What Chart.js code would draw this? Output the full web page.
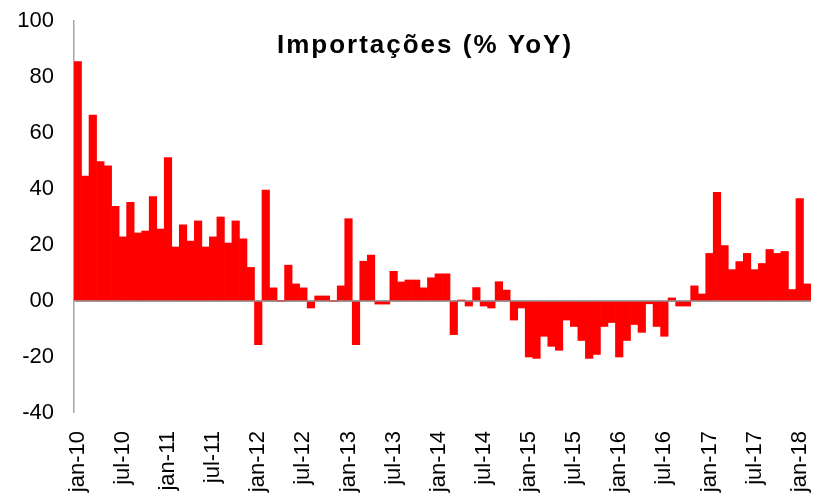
<!DOCTYPE html>
<html>
<head>
<meta charset="utf-8">
<script src="https://cdn.jsdelivr.net/npm/chart.js@4/dist/chart.umd.min.js"></script>
<style>
  html, body { margin: 0; padding: 0; background: #fff; }
  #wrap { width: 814px; height: 497px; }
</style>
</head>
<body>
<div id="wrap"><canvas id="importChart" width="814" height="497"></canvas></div>
<script>
// Importações, variação anual (%), mensal jan-10 a fev-18
const months = ['jan', 'fev', 'mar', 'abr', 'mai', 'jun', 'jul', 'ago', 'set', 'out', 'nov', 'dez'];
const years = ['10', '11', '12', '13', '14', '15', '16', '17', '18'];

const yoy2010 = [85.5, 44.6, 66.4, 49.8, 48.3, 33.8, 22.9, 35.2, 24.3, 25.0, 37.3, 25.7];
const yoy2011 = [51.2, 19.3, 27.2, 21.4, 28.6, 19.3, 22.9, 30.0, 20.7, 28.6, 22.2, 12.0];
const yoy2012 = [-15.6, 39.6, 4.7, 0.0, 12.8, 6.1, 4.7, -2.5, 1.8, 1.8, 0.0, 5.4];
const yoy2013 = [29.4, -15.6, 14.2, 16.4, -1.1, -1.1, 10.6, 6.8, 7.5, 7.5, 4.7, 8.3];
const yoy2014 = [9.7, 9.7, -12.0, 0.3, -1.8, 4.8, -1.8, -2.5, 6.9, 3.9, -6.8, -2.5];
const yoy2015 = [-20.0, -20.5, -12.6, -16.2, -17.6, -6.8, -9.1, -14.1, -20.5, -19.1, -9.1, -7.7];
const yoy2016 = [-20.0, -14.1, -8.4, -11.2, -1.0, -9.1, -12.6, 1.1, -1.8, -1.8, 5.4, 2.5];
const yoy2017 = [17.0, 38.8, 19.8, 11.2, 14.1, 17.0, 11.2, 13.4, 18.4, 17.0, 17.7, 4.1];
const yoy2018 = [36.6, 6.1];

const yTicks = [-40, -20, 0, 20, 40, 60, 80, 100];

const values = [].concat(yoy2010, yoy2011, yoy2012, yoy2013, yoy2014, yoy2015, yoy2016, yoy2017, yoy2018);
const labels = values.map((v, i) => `${months[i % 12]}-${years[Math.floor(i / 12)]}`);

// title sits inside the plot area, like the original
const titlePlugin = {
  id: 'insideTitle',
  afterDraw(chart) {
    const ctx = chart.ctx;
    ctx.save();
    ctx.font = 'bold 26px "Liberation Sans", Arial, sans-serif';
    if ('letterSpacing' in ctx) ctx.letterSpacing = '2px';
    ctx.fillStyle = '#000';
    ctx.textAlign = 'center';
    ctx.textBaseline = 'alphabetic';
    ctx.fillText('Importações (% YoY)', 425, 53);
    ctx.restore();
  }
};

const ctx = document.getElementById('importChart').getContext('2d');
new Chart(ctx, {
  type: 'bar',
  data: {
    labels: labels,
    datasets: [{
      label: 'Importações (% YoY)',
      data: values,
      backgroundColor: '#ff0000',
      borderWidth: 0,
      categoryPercentage: 1.0,
      barPercentage: 1.0
    }]
  },
  options: {
    responsive: false,
    animation: false,
    layout: { padding: { top: 21, right: 3, left: 0, bottom: 0 } },
    plugins: {
      legend: { display: false },
      title: { display: false },
      tooltip: { enabled: false }
    },
    scales: {
      x: {
        grid: { display: false, drawTicks: false },
        border: { display: false },
        ticks: {
          autoSkip: false,
          maxRotation: 90,
          minRotation: 90,
          padding: 18,
          color: '#000',
          font: { family: '"Liberation Sans", Arial, sans-serif', size: 22 },
          callback: (val, i) => (i % 6 === 0 ? labels[i] : '')
        },
        afterFit: (scale) => {
          scale.height = 84;
          scale.paddingLeft = 0;
          scale.paddingRight = 0;
        }
      },
      y: {
        min: yTicks[0],
        max: yTicks[yTicks.length - 1],
        z: 1,
        afterBuildTicks: (scale) => { scale.ticks = yTicks.map(v => ({ value: v })); },
        grid: {
          drawTicks: false,
          color: (c) => (c.tick && c.tick.value === 0 ? '#9a9a9a' : 'rgba(0,0,0,0)'),
          lineWidth: (c) => (c.tick && c.tick.value === 0 ? 2 : 0)
        },
        border: { display: true, color: '#a6a6a6', width: 1.5 },
        ticks: {
          padding: 20,
          color: '#000',
          font: { family: '"Liberation Sans", Arial, sans-serif', size: 22 },
          callback: (v) => (v === 0 ? '00' : v)
        },
        afterFit: (scale) => {
          scale.width = 74;
          scale.paddingTop = 0;
          scale.paddingBottom = 0;
        }
      }
    }
  },
  plugins: [titlePlugin]
});
</script>
</body>
</html>
